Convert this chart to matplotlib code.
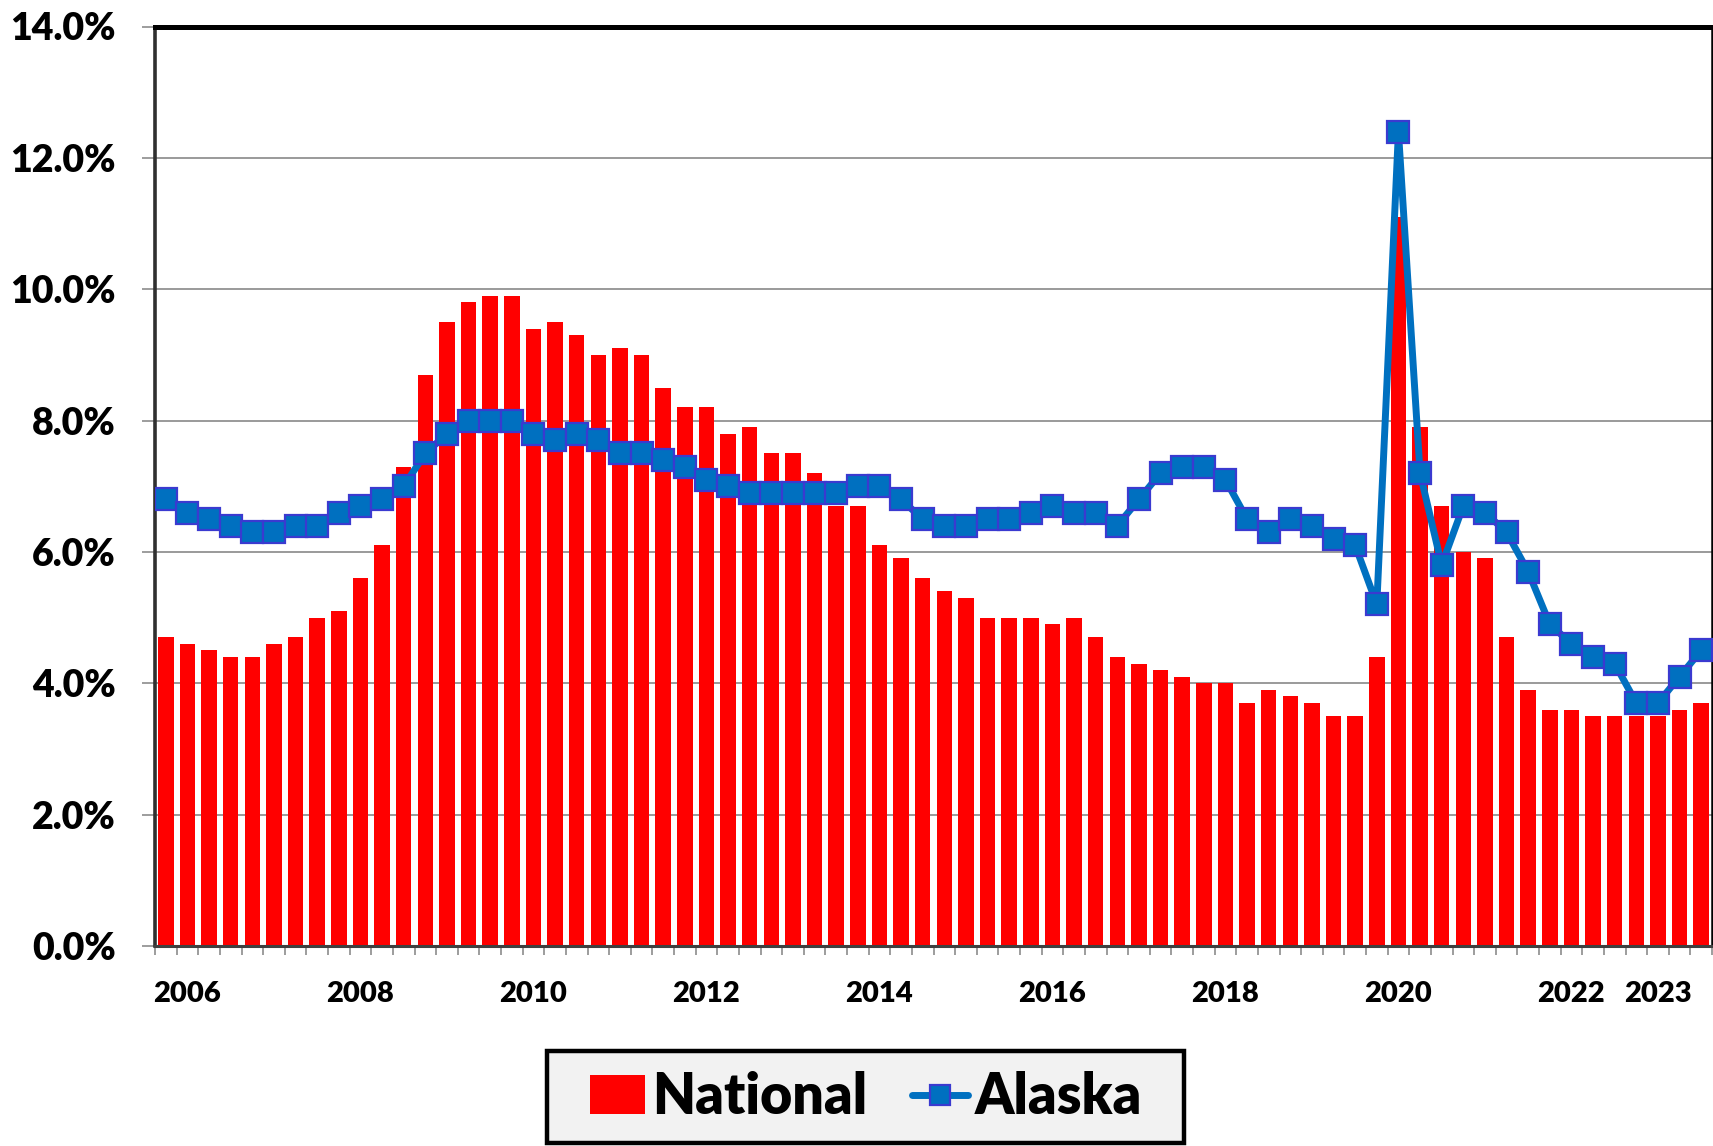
import numpy as np
import matplotlib
matplotlib.use("Agg")
import matplotlib.pyplot as plt
from matplotlib.patches import Patch, Rectangle
from matplotlib.lines import Line2D
from matplotlib.ticker import FixedLocator, FuncFormatter

plt.rcParams['font.family'] = ['Lato', 'DejaVu Sans']
plt.rcParams['font.weight'] = 'heavy'

# quarterly unemployment rate, 2006 Q1 .. 2023 Q4 (percent)
national = [4.7, 4.6, 4.5, 4.4, 4.4, 4.6, 4.7, 5.0, 5.1, 5.6, 6.1, 7.3,
            8.7, 9.5, 9.8, 9.9, 9.9, 9.4, 9.5, 9.3, 9.0, 9.1, 9.0, 8.5,
            8.2, 8.2, 7.8, 7.9, 7.5, 7.5, 7.2, 6.7, 6.7, 6.1, 5.9, 5.6,
            5.4, 5.3, 5.0, 5.0, 5.0, 4.9, 5.0, 4.7, 4.4, 4.3, 4.2, 4.1,
            4.0, 4.0, 3.7, 3.9, 3.8, 3.7, 3.5, 3.5, 4.4, 11.1, 7.9, 6.7,
            6.0, 5.9, 4.7, 3.9, 3.6, 3.6, 3.5, 3.5, 3.5, 3.5, 3.6, 3.7]
alaska = [6.8, 6.6, 6.5, 6.4, 6.3, 6.3, 6.4, 6.4, 6.6, 6.7, 6.8, 7.0,
          7.5, 7.8, 8.0, 8.0, 8.0, 7.8, 7.7, 7.8, 7.7, 7.5, 7.5, 7.4,
          7.3, 7.1, 7.0, 6.9, 6.9, 6.9, 6.9, 6.9, 7.0, 7.0, 6.8, 6.5,
          6.4, 6.4, 6.5, 6.5, 6.6, 6.7, 6.6, 6.6, 6.4, 6.8, 7.2, 7.3,
          7.3, 7.1, 6.5, 6.3, 6.5, 6.4, 6.2, 6.1, 5.2, 12.4, 7.2, 5.8,
          6.7, 6.6, 6.3, 5.7, 4.9, 4.6, 4.4, 4.3, 3.7, 3.7, 4.1, 4.5]
year_labels = ['2006', '2008', '2010', '2012', '2014', '2016', '2018',
               '2020', '2022', '2023']
label_pos = [1, 9, 17, 25, 33, 41, 49, 57, 65, 69]

x = np.arange(len(national))

fig = plt.figure(figsize=(17.13, 11.46), dpi=100)
ax = fig.add_axes([155 / 1713, 1 - 946 / 1146, 1557 / 1713, 919.5 / 1146])

ax.bar(x, national, width=0.72, color='#ff0000', zorder=2)
ax.plot(x, alaska, color='#0070c0', lw=5, marker='s', markersize=15.5,
        markerfacecolor='#0070c0', markeredgecolor='#3a3ad0',
        markeredgewidth=1.6, solid_joinstyle='round', zorder=3)

ax.set_xlim(-0.5, len(national) - 0.5)
ax.set_ylim(0, 14)
ax.set_yticks(np.arange(0, 14.1, 2))
ax.yaxis.set_major_formatter(FuncFormatter(lambda v, p: f"{v:.1f}%"))
ax.yaxis.grid(True, color='#9a9a9a', lw=1.4, zorder=0)
ax.set_axisbelow(True)

ax.set_xticks(label_pos)
ax.set_xticklabels(year_labels)
ax.xaxis.set_minor_locator(FixedLocator(np.arange(-0.5, len(national), 1)))
ax.tick_params(axis='x', which='major', length=0, pad=25, labelsize=21)
ax.tick_params(axis='x', which='minor', length=6.5, width=1.2,
               color='#8c8c8c', direction='out')
ax.tick_params(axis='y', which='major', length=9.4, width=1.2,
               color='#8c8c8c', pad=19, labelsize=27)
for lbl in ax.get_xticklabels() + ax.get_yticklabels():
    lbl.set_fontweight('heavy')

ax.spines['top'].set_linewidth(3.6)
ax.spines['top'].set_color('black')
ax.spines['left'].set_linewidth(2.6)
ax.spines['left'].set_color('#303030')
ax.spines['right'].set_linewidth(1.8)
ax.spines['right'].set_color('black')
ax.spines['bottom'].set_linewidth(2.2)
ax.spines['bottom'].set_color('#404040')

# legend box
fig.add_artist(Rectangle((547 / 1713, 3 / 1146), 637 / 1713, 92 / 1146,
                         transform=fig.transFigure, facecolor='#f2f2f2',
                         edgecolor='black', lw=3.2, zorder=1))
handles = [Patch(facecolor='#ff0000', edgecolor='none'),
           Line2D([0], [0], color='#0070c0', lw=5, marker='s',
                  markersize=15, markerfacecolor='#0070c0',
                  markeredgecolor='#3a3ad0', markeredgewidth=1.6,
                  solid_capstyle='round')]
leg = fig.legend(handles, ['National', 'Alaska'], loc='center',
                 bbox_to_anchor=(866 / 1713, 1 - 1097 / 1146), ncol=2,
                 frameon=False, handlelength=1.0, handleheight=0.7,
                 handletextpad=0.13, columnspacing=0.8,
                 prop={'size': 40, 'weight': 'heavy'})
leg.set_zorder(2)

fig.savefig('out.png', dpi=100)
